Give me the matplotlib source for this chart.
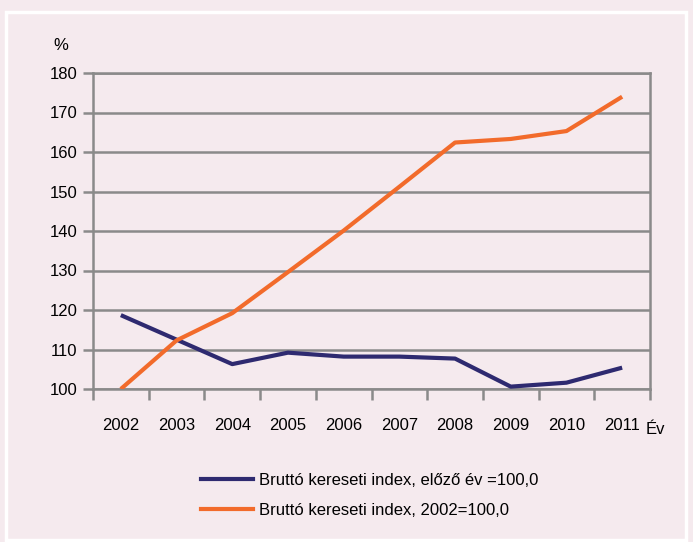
import matplotlib
matplotlib.use('Agg')
import matplotlib.pyplot as plt
import matplotlib.patches as mpatches
from matplotlib.lines import Line2D

years = ['2002', '2003', '2004', '2005', '2006', '2007', '2008', '2009', '2010', '2011']
prev_year_index = [118.7, 112.5, 106.3, 109.2, 108.2, 108.2, 107.7, 100.6, 101.6, 105.4]
base_2002_index = [100.0, 112.3, 119.2, 129.6, 140.1, 151.2, 162.4, 163.3, 165.3, 174.0]
label_prev = 'Bruttó kereseti index, előző év =100,0'
label_base = 'Bruttó kereseti index, 2002=100,0'

bg = '#F5EAEE'
navy = '#2E2A70'
orange = '#F26B2B'
grid_col = '#8A8A8A'

plt.rcParams['font.family'] = ['Liberation Sans', 'DejaVu Sans']

fig = plt.figure(figsize=(6.93, 5.42), dpi=100)
fig.patch.set_facecolor(bg)
# thin white frame around the panel
fig.patches.append(mpatches.Rectangle((6 / 693, 2 / 542), 680 / 693, 528 / 542,
                                      transform=fig.transFigure, fill=False,
                                      edgecolor='white', linewidth=2.5))

ax = fig.add_axes([93 / 693, 1 - 389 / 542, 557 / 693, 316 / 542])
ax.set_facecolor(bg)

x = list(range(len(years)))
ax.plot(x, prev_year_index, color=navy, linewidth=3, solid_capstyle='butt', zorder=3)
ax.plot(x, base_2002_index, color=orange, linewidth=3, solid_capstyle='butt', zorder=3)

ax.set_xlim(-0.5, len(years) - 0.5)
ax.set_ylim(100, 180)
ax.set_yticks(range(100, 181, 10))
ax.yaxis.grid(True, color=grid_col, linewidth=1.8)
ax.set_axisbelow(True)

# category labels centred, tick marks between categories
ax.set_xticks(x)
ax.set_xticklabels(years, fontsize=12)
ax.set_xticks([i - 0.5 for i in range(len(years) + 1)], minor=True)
ax.tick_params(axis='x', which='major', length=0, pad=21)
ax.tick_params(axis='x', which='minor', length=8, width=1.8, color=grid_col)
ax.tick_params(axis='y', length=7, width=1.8, color=grid_col, labelsize=12, pad=4)

for side in ['left', 'right', 'bottom', 'top']:
    ax.spines[side].set_color(grid_col)
    ax.spines[side].set_linewidth(1.8)

fig.text(61 / 693, 1 - 46 / 542, '%', fontsize=12, ha='center', va='center')
fig.text(655 / 693, 1 - 429 / 542, 'Év', fontsize=12, ha='center', va='center')

handles = [Line2D([], [], color=navy, linewidth=3, label=label_prev),
           Line2D([], [], color=orange, linewidth=3, label=label_base)]
fig.legend(handles=handles, loc='upper left', bbox_to_anchor=(186 / 693, 1 - 458 / 542),
           frameon=False, fontsize=12, handlelength=3.1, handletextpad=0.36,
           labelspacing=0.9)

plt.savefig('out.png', dpi=100, facecolor=bg)
